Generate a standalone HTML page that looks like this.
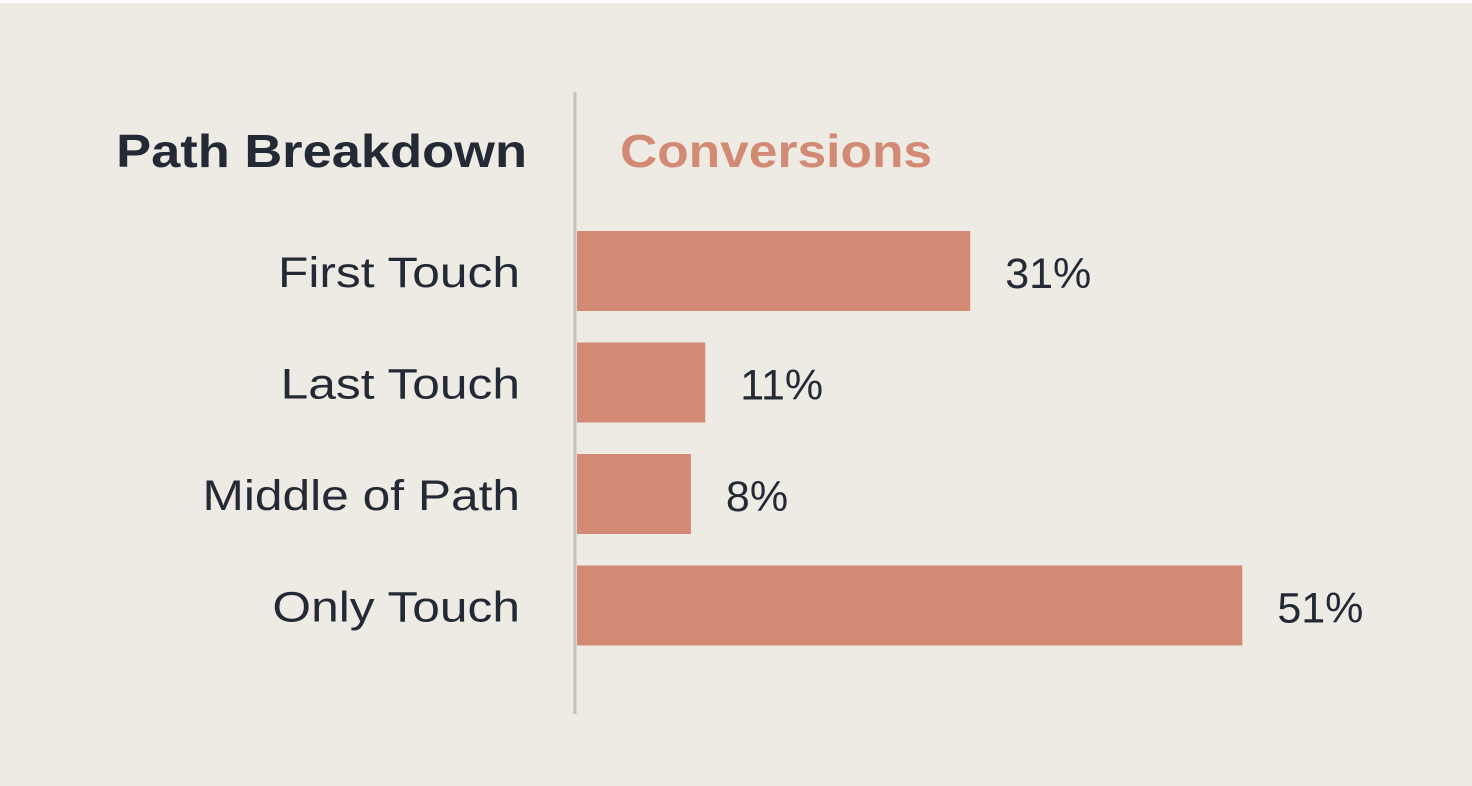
<!DOCTYPE html>
<html><head><meta charset="utf-8"><style>
html,body{margin:0;padding:0;background:#fff;}
#wrap{position:absolute;left:0;top:3px;width:1472px;height:783px;background:#EEEBE4;}
svg text{font-family:"Liberation Sans",sans-serif;}
</style></head><body>
<div id="wrap">
<svg id="chart" width="1472" height="786" style="position:absolute;left:0;top:-3px"></svg>
</div>
<script>
const categories = ["First Touch","Last Touch","Middle of Path","Only Touch"];
const values = [30.2, 9.85, 8.75, 51.1];
const valueLabels = ["31%","11%","8%","51%"];

const NS="http://www.w3.org/2000/svg";
const svg=document.getElementById('chart');
const x0=577, pxPerPct=13.02;
const xScale=v=>x0+v*pxPerPct;
const barTop0=231, pitch=111.5, barH=80;
const yScale=i=>barTop0+i*pitch;
function mk(tag,attrs){const e=document.createElementNS(NS,tag);for(const k in attrs)e.setAttribute(k,attrs[k]);svg.appendChild(e);return e;}
function stretch(el,f){const w=el.getComputedTextLength();el.setAttribute('textLength',w*f);el.setAttribute('lengthAdjust','spacingAndGlyphs');}

const t1=mk('text',{x:527,y:167,'text-anchor':'end','font-size':46,'font-weight':'bold',fill:'#232a35'});
t1.textContent="Path Breakdown";


stretch(t1,1.14);
const t2=mk('text',{x:620,y:167,'font-size':46,'font-weight':'bold',fill:'#D28A74'});
t2.textContent="Conversions";


stretch(t2,1.12);

categories.forEach((c,i)=>{
  const y=yScale(i);
  const r=mk('rect',{x:x0,y:y,width:xScale(values[i])-x0,height:barH,fill:'#D28A74'});
  
  
  const l=mk('text',{x:520,y:y+barH/2+16,'text-anchor':'end','font-size':43,fill:'#232a35'});
  l.textContent=c;
  
  
  stretch(l,1.155);
  const v=mk('text',{x:xScale(values[i])+35,y:y+barH/2+17,'font-size':43,fill:'#232a35'});
  v.textContent=valueLabels[i];
  
  
});
const ax=mk('line',{x1:575,y1:92,x2:575,y2:714,stroke:'#c2c2c0','stroke-width':3});


</script>
</body></html>
